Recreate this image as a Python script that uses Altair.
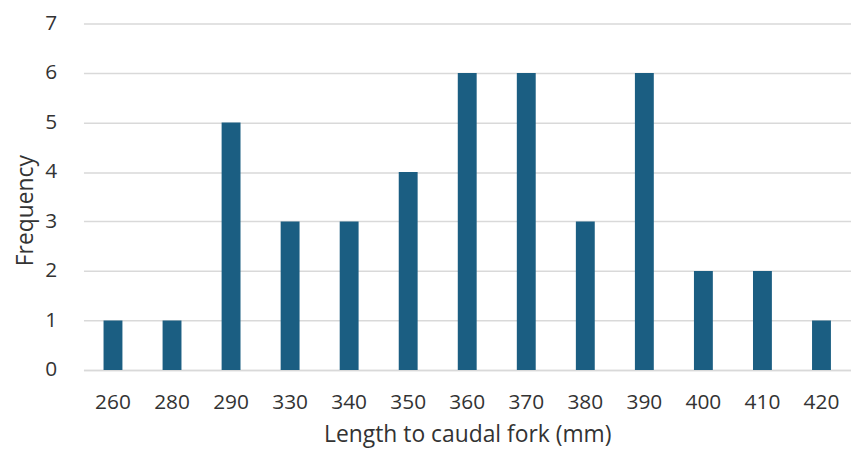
import altair as alt
import pandas as pd

lengths = ["260", "280", "290", "330", "340", "350", "360", "370", "380", "390", "400", "410", "420"]
freqs = [1, 1, 5, 3, 3, 4, 6, 6, 3, 6, 2, 2, 1]
y_ticks = [0, 1, 2, 3, 4, 5, 6, 7]

df = pd.DataFrame({"length": lengths, "freq": freqs})

chart = alt.Chart(df).mark_bar(color="#1b5e82").encode(
    x=alt.X("length:N", sort=lengths,
            scale=alt.Scale(paddingInner=0.68, paddingOuter=0.34),
            axis=alt.Axis(title="Length to caudal fork (mm)", labelAngle=0,
                          ticks=False, domainColor="#d9d9d9", domainWidth=1.5,
                          labelFontSize=21, labelColor="#333333", labelPadding=22,
                          titleFontSize=23, titleFontWeight="normal", titleColor="#333333",
                          titlePadding=11, labelFont="Open Sans", titleFont="Open Sans")),
    y=alt.Y("freq:Q", scale=alt.Scale(domain=[0, 7], nice=False),
            axis=alt.Axis(title="Frequency", values=y_ticks, ticks=False, domain=False,
                          gridColor="#d9d9d9", gridWidth=1.5,
                          labelFontSize=21, labelColor="#333333", labelPadding=27,
                          titleFontSize=23, titleFontWeight="normal", titleColor="#333333",
                          titlePadding=7, titleY=188, labelFont="Open Sans", titleFont="Open Sans")),
).properties(
    width=773, height=349,
    autosize=alt.AutoSizeParams(type="none"),
    padding={"left": 76, "top": 14, "right": 0, "bottom": 80},
).configure_view(stroke=None)

chart.save("out.html", embed_options={"renderer": "svg", "actions": False})
